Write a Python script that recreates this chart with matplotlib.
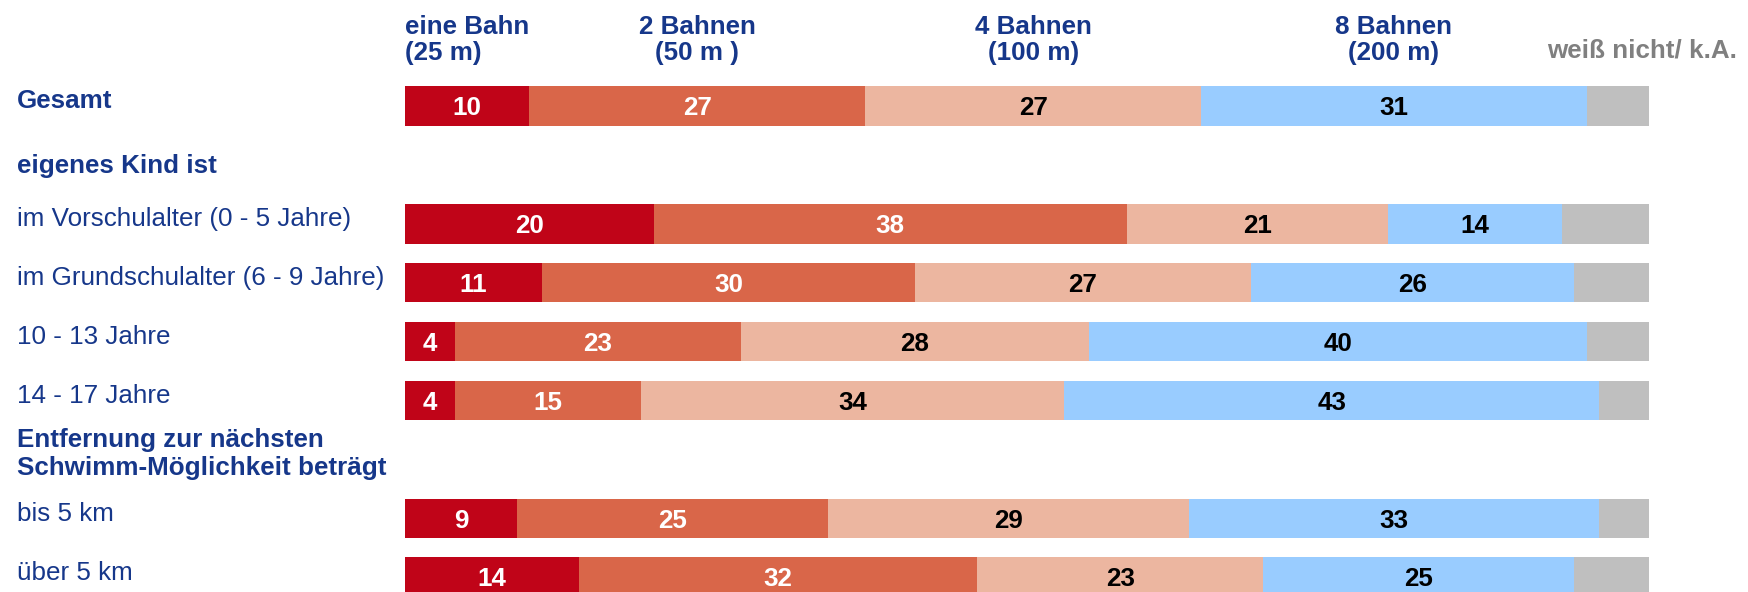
import matplotlib
matplotlib.use("Agg")
import matplotlib.pyplot as plt
from matplotlib.transforms import blended_transform_factory
import numpy as np

plt.rcParams['font.family'] = ['Liberation Sans', 'DejaVu Sans']

# ---- data ----
categories = ["Gesamt", "im Vorschulalter (0 - 5 Jahre)", "im Grundschulalter (6 - 9 Jahre)",
              "10 - 13 Jahre", "14 - 17 Jahre", "bis 5 km", "über 5 km"]
slots = [0, 2, 3, 4, 5, 7, 8]
bold_rows = ["Gesamt"]
group_headers = ["eigenes Kind ist", "Entfernung zur nächsten\nSchwimm-Möglichkeit beträgt"]
group_slots = [1, 6]

eine_bahn = [10, 20, 11, 4, 4, 9, 14]
zwei_bahnen = [27, 38, 30, 23, 15, 25, 32]
vier_bahnen = [27, 21, 27, 28, 34, 29, 23]
acht_bahnen = [31, 14, 26, 40, 43, 33, 25]
weiss_nicht = [5, 7, 6, 5, 4, 4, 6]

series = [eine_bahn, zwei_bahnen, vier_bahnen, acht_bahnen, weiss_nicht]
series_headers = [("eine Bahn", "(25 m)"), ("2 Bahnen", "(50 m )"), ("4 Bahnen", "(100 m)"),
                  ("8 Bahnen", "(200 m)")]
wn_header = "weiß nicht/ k.A."
colors = ["#C00418", "#D96649", "#ECB6A0", "#99CCFF", "#BFBFBF"]
value_colors = ["white", "white", "black", "black", None]

NAVY = "#16378A"
GRAY_TXT = "#808080"
FS = 18.7

W, H = 1749, 592
fig = plt.figure(figsize=(W / 100, H / 100), dpi=100)
left_px, right_px = 405, 1649
ax = fig.add_axes([left_px / W, 0, (right_px - left_px) / W, 1])
slot_h = 58.9
top_center = 106
ax.set_xlim(0, 100)
ax.set_ylim((H - top_center) / slot_h, -top_center / slot_h)
ax.axis("off")

px = 1 / slot_h  # one pixel in y data units
bar_h = 39.5 * px

left = np.zeros(len(categories))
for vals, col, tcol in zip(series, colors, value_colors):
    vals = np.array(vals, dtype=float)
    ax.barh(slots, vals, left=left, height=bar_h, color=col, edgecolor="none")
    if tcol is not None:
        for y, l, v in zip(slots, left, vals):
            ax.text(l + v / 2, y + 9.3 * px, f"{int(v)}", ha="center", va="baseline",
                    color=tcol, fontsize=FS, fontweight="bold")
    left += vals

# row labels
tr = blended_transform_factory(fig.transFigure, ax.transData)
for cat, y in zip(categories, slots):
    ax.text(17 / W, y + 2.3 * px, cat, transform=tr, ha="left", va="baseline",
            color=NAVY, fontsize=FS,
            fontweight="bold" if cat in bold_rows else "normal")

# group headers
for txt, y in zip(group_headers, group_slots):
    lines = txt.split("\n")
    if len(lines) == 1:
        ax.text(17 / W, y + 8 * px, lines[0], transform=tr, ha="left", va="baseline",
                color=NAVY, fontsize=FS, fontweight="bold")
    else:
        offs = [-12.4, 15.6]
        for ln, o in zip(lines, offs):
            ax.text(17 / W, y + o * px, ln, transform=tr, ha="left", va="baseline",
                    color=NAVY, fontsize=FS, fontweight="bold")

# column headers positioned over the "Gesamt" row segments
tr2 = blended_transform_factory(ax.transData, fig.transFigure)
g_left = 0.0
for i, (l1, l2) in enumerate(series_headers):
    v = series[i][0]
    if i == 0:
        x, ha = g_left, "left"
    else:
        x, ha = g_left + v / 2, "center"
    ax.text(x, 1 - 34 / H, l1, transform=tr2, ha=ha, va="baseline", color=NAVY,
            fontsize=FS, fontweight="bold")
    ax.text(x, 1 - 60 / H, l2, transform=tr2, ha=ha, va="baseline", color=NAVY,
            fontsize=FS, fontweight="bold")
    g_left += v

fig.text(1737 / W, 1 - 58 / H, wn_header, ha="right", va="baseline", color=GRAY_TXT,
         fontsize=FS, fontweight="bold")

fig.savefig("out.png", dpi=100)
